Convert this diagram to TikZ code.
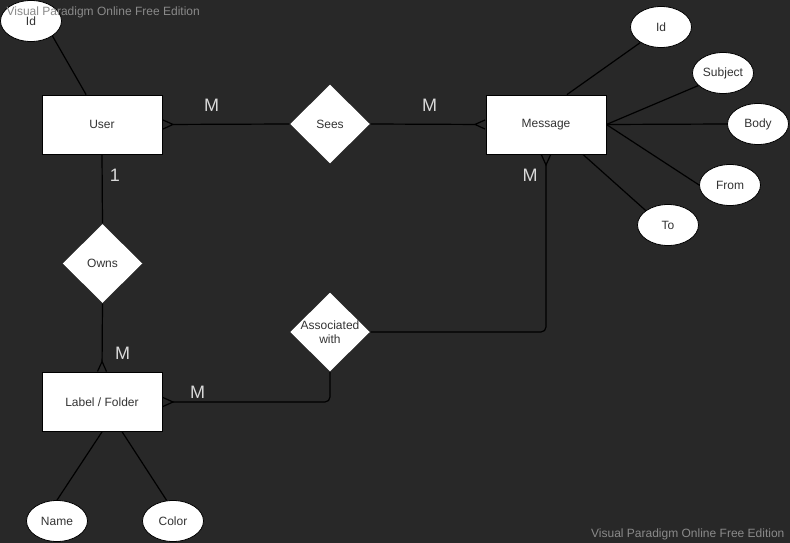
\documentclass[tikz,border=0pt]{standalone}
\usepackage{fontspec}
\setmainfont{Liberation Sans}
\usepackage{tikz}
\usetikzlibrary{positioning,arrows.meta,shapes.geometric}
\definecolor{bgdark}{HTML}{282828}
\definecolor{boxtext}{HTML}{333333}
\definecolor{cardtext}{HTML}{D9D9D9}
\definecolor{wmtext}{HTML}{8A8A8A}

\begin{document}
\begin{tikzpicture}[x=1pt, y=-1pt, line width=1.2pt,
  crow/.tip={Straight Barb[reversed, length=10pt, width=9pt, line width=1.2pt]},
  entity/.style={rectangle, draw=black, line width=0.8pt, fill=white, minimum width=120pt, minimum height=59pt, font=\fontsize{12}{14}\selectfont, text=boxtext},
  relation/.style={diamond, fill=white, minimum width=80pt, minimum height=79pt, inner sep=0pt, align=center, font=\fontsize{12}{14}\selectfont, text=boxtext},
  attr/.style={ellipse, draw=black, line width=0.8pt, fill=white, minimum width=61pt, minimum height=41pt, inner sep=0pt, font=\fontsize{12}{14}\selectfont, text=boxtext},
  card/.style={font=\fontsize{18}{20}\selectfont, text=cardtext},
  wmark/.style={font=\fontsize{12}{14}\selectfont, text=wmtext, inner sep=0pt}]

\fill[bgdark] (0,0) rectangle (790,543);
\useasboundingbox (0,0) rectangle (790,543);

% entities
\node[entity] (user) at (102,124.5) {User};
\node[entity] (msg) at (546,124.5) {Message};
\node[entity] (folder) at (102,402) {Label / Folder};

% relations
\node[relation] (sees) at (330,124) {Sees};
\node[relation] (owns) at (102.5,263.5) {Owns};
\node[relation] (assoc) at (330,332) {\makebox[0pt]{Associated}\\\makebox[0pt]{with}};

% attributes
\node[attr] (uid) at (31,21) {Id};
\node[attr] (mid) at (661,27) {Id};
\node[attr] (msubj) at (723,73) {Subject};
\node[attr] (mbody) at (758,124) {Body};
\node[attr] (mfrom) at (730,185) {From};
\node[attr] (mto) at (668,225) {To};
\node[attr] (fname) at (57,521) {Name};
\node[attr] (fcolor) at (173,521) {Color};

% relation lines
\draw[-crow] (sees.west) -- (user.east);
\draw[-crow] (sees.east) -- (msg.west);
\draw (user.south) -- (owns.north);
\draw[-crow] (owns.south) -- (folder.north);
\draw[-crow, rounded corners=5pt] (assoc.east) -| (msg.south);
\draw[-crow, rounded corners=5pt] (assoc.south) |- (folder.east);

% attribute lines
\draw (uid.-35) -- (user.118);
\draw (msg.55) -- (mid.-143);
\draw (msg.east) -- (msubj.-153);
\draw (msg.east) -- (mbody.west);
\draw (msg.east) -- (mfrom.west);
\draw (msg.-39) -- (mto.147);
\draw (folder.south) -- (fname.north);
\draw (folder.-56) -- (fcolor.107);

% cardinalities
\node[card] (cusees) at (211.5,105.5) {M};
\node[card] (cmsees) at (429.5,105.5) {M};
\node[card] (cuowns) at (115,175) {1};
\node[card] (cfowns) at (122.5,353.5) {M};
\node[card] (cfassoc) at (197.5,392) {M};
\node[card] (cmassoc) at (530,175) {M};

% watermark
\node[wmark, anchor=west] (wmtop) at (6,12) {Visual Paradigm Online Free Edition};
\node[wmark, anchor=east] (wmbot) at (785,534) {Visual Paradigm Online Free Edition};

\end{tikzpicture}
\end{document}
